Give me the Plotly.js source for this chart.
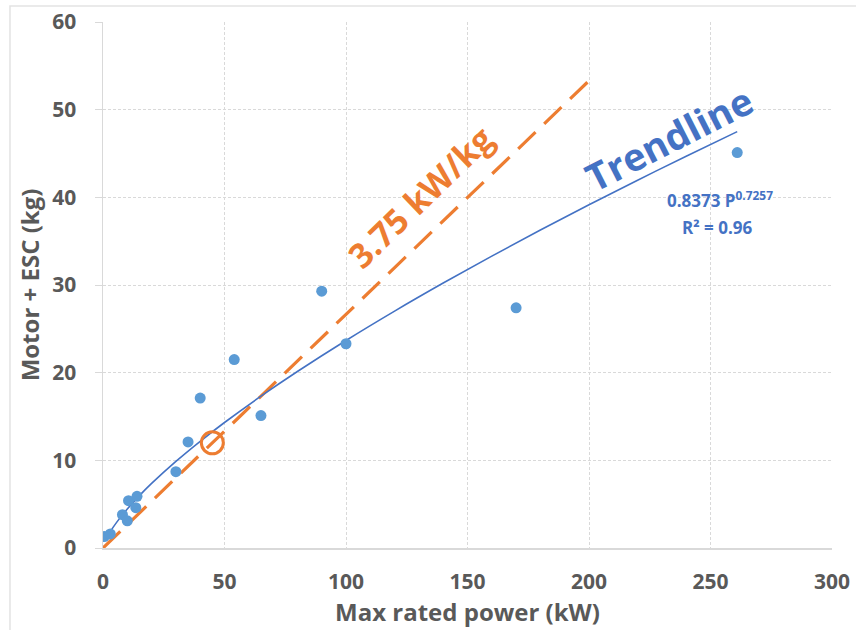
<!DOCTYPE html>
<html>
<head>
<meta charset="utf-8">
<script src="https://cdn.plot.ly/plotly-3.0.1.min.js"></script>
<style>html,body{margin:0;padding:0;background:#fff;}#chart{width:856px;height:630px;}</style>
</head>
<body>
<div id="chart"></div>
<script>
// Measured motors: max rated power (kW) vs motor + ESC mass (kg)
var powerKW = [0.5, 3, 8, 10, 10.5, 13.5, 14, 30, 35, 40, 54, 65, 90, 100, 170, 261];
var massKg  = [1.3, 1.6, 3.8, 3.1, 5.4, 4.6, 5.9, 8.7, 12.1, 17.1, 21.5, 15.1, 29.3, 23.3, 27.4, 45.1];

// Power-law trendline shown on the chart: 0.8373 P^0.7257
var trendCoef = 0.8373;
var trendExp = 0.7257;
var trendX = [1, 2, 4, 7, 10, 15, 20, 30, 40, 50, 65, 80, 100, 120, 140, 160, 180, 200, 220, 240, 261];
var trendY = trendX.map(function (p) { return trendCoef * Math.pow(p, trendExp); });

// 3.75 kW/kg reference line and highlighted point
var refX = [0, 200];
var refY = [0, 53.3];
var markX = [45];
var markY = [12];

var xTicks = [0, 50, 100, 150, 200, 250, 300];
var yTicks = [0, 10, 20, 30, 40, 50, 60];

var FONT = "'Open Sans', Lato, sans-serif";
var GREY = "#595959";
var BLUE = "#4472C4";
var ORANGE = "#ED7D31";

function b(s) { return "<b>" + s + "</b>"; }

var traces = [
  {
    x: refX, y: refY, mode: "lines", type: "scatter",
    line: {color: ORANGE, width: 3.2, dash: "24px,12px"},
    hoverinfo: "skip"
  },
  {
    x: trendX, y: trendY, mode: "lines", type: "scatter",
    line: {color: BLUE, width: 1.6, shape: "spline"},
    hoverinfo: "skip"
  },
  {
    x: powerKW, y: massKg, mode: "markers", type: "scatter",
    marker: {color: "#5B9BD5", size: 11}
  },
  {
    x: markX, y: markY, mode: "markers", type: "scatter",
    marker: {symbol: "circle-open", color: ORANGE, size: 22, line: {width: 3, color: ORANGE}}
  }
];

var layout = {
  width: 856, height: 630,
  margin: {l: 103, r: 24, t: 22, b: 82},
  paper_bgcolor: "#ffffff", plot_bgcolor: "#ffffff",
  showlegend: false,
  font: {family: FONT, color: GREY},
  xaxis: {
    range: [0, 300], tickvals: xTicks, ticktext: xTicks.map(function (v) { return b(v); }),
    showgrid: true, gridcolor: "#d9d9d9", griddash: "3px,2px", gridwidth: 1,
    showline: true, linecolor: "#d9d9d9", linewidth: 1.5,
    zeroline: false, ticks: "",
    tickfont: {family: FONT, size: 21, color: GREY},
    ticklabelstandoff: 14,
    title: {text: b("Max rated power (kW)"), font: {family: FONT, size: 24, color: GREY}, standoff: 7},
    automargin: false
  },
  yaxis: {
    range: [0, 60], tickvals: yTicks, ticktext: yTicks.map(function (v) { return b(v); }),
    showgrid: true, gridcolor: "#d9d9d9", griddash: "3px,2px", gridwidth: 1,
    showline: true, linecolor: "#d9d9d9", linewidth: 1.5,
    zeroline: false, ticks: "outside", ticklen: 7, tickcolor: "#d9d9d9",
    tickfont: {family: FONT, size: 21, color: GREY},
    ticklabelstandoff: 14,
    title: {text: b("Motor + ESC (kg)"), font: {family: FONT, size: 24, color: GREY}, standoff: 6},
    automargin: false
  },
  shapes: [
    {type: "rect", xref: "paper", yref: "paper", x0: -0.1276, x1: 1.2, y0: -0.3, y1: 1.0304,
     line: {color: "#e3e3e3", width: 1.5}, fillcolor: "rgba(0,0,0,0)", layer: "below"}
  ],
  annotations: [
    {x: 130.5, y: 40, xref: "x", yref: "y", text: b("3.75 kW/kg"), showarrow: false,
     textangle: -44, font: {family: FONT, size: 34, color: ORANGE}},
    {x: 232.9, y: 46.8, xref: "x", yref: "y", text: b("Trendline"), showarrow: false,
     textangle: -27, font: {family: FONT, size: 38, color: BLUE}},
    {x: 254, y: 39.8, xref: "x", yref: "y", text: b("0.8373 P<sup>0.7257</sup>"), showarrow: false,
     font: {family: FONT, size: 17, color: BLUE}},
    {x: 253, y: 36.6, xref: "x", yref: "y", text: b("R² = 0.96"), showarrow: false,
     font: {family: FONT, size: 17, color: BLUE}}
  ]
};

Plotly.newPlot("chart", traces, layout, {displayModeBar: false, staticPlot: true});
</script>
</body>
</html>
